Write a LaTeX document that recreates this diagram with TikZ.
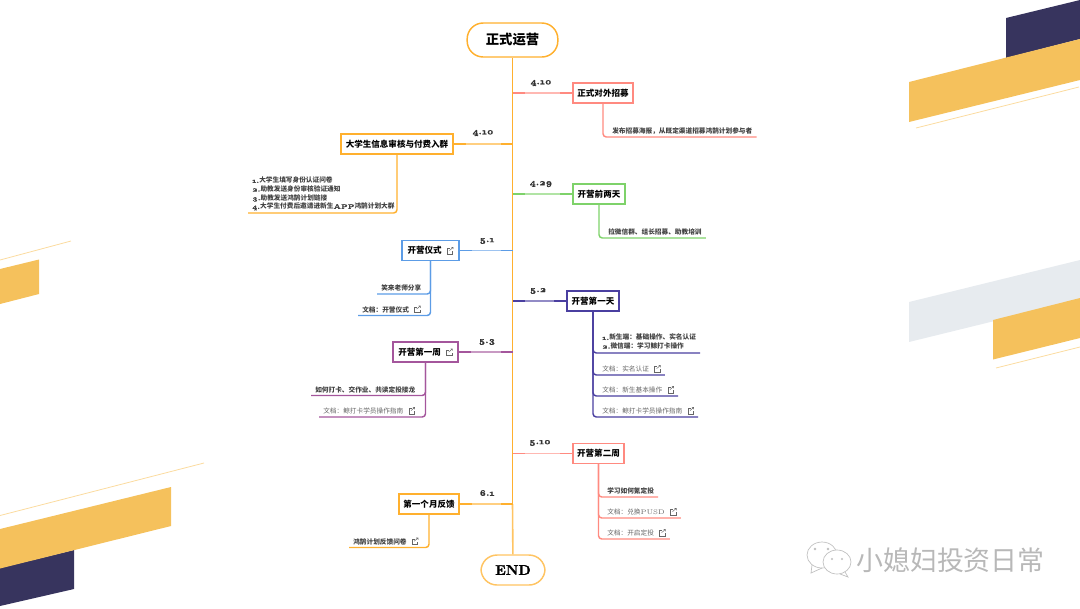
\documentclass[tikz,border=0pt]{standalone}
\usepackage{fontspec}
\setmainfont{Noto Sans CJK SC}
\newfontfamily\latn[Numbers=OldStyle,UprightFont=*10-Regular,BoldFont=*10-Bold,BoldFeatures={FakeBold=1.6}]{LMRoman}
\newfontfamily\markfont{Noto Sans CJK SC}

\definecolor{orangec}{HTML}{FFB02E}
\definecolor{redc}{HTML}{FF8A80}
\definecolor{greenc}{HTML}{7ED26A}
\definecolor{bluec}{HTML}{5C9CE6}
\definecolor{purplec}{HTML}{4A3FA0}
\definecolor{magentac}{HTML}{A4569C}
\definecolor{bandy}{HTML}{F5C15C}
\definecolor{bandn}{HTML}{37345E}
\definecolor{bandg}{HTML}{E7EBEF}
\definecolor{liney}{HTML}{FBDB9F}

\newcommand{\linkicon}{\hspace{4pt}\tikz[x=1pt,y=1pt,baseline=0pt,line width=.35pt]{
  \draw[black!60] (2,4) -- (0,4) -- (0,0) -- (4,0) -- (4,2);
  \draw[black!60] (1.6,2.4) -- (4.4,4.8) (3,4.8) -- (4.4,4.8) -- (4.4,3.4);}}

\tikzset{
  rootbox/.style={draw=orangec, line width=1.1pt, rounded corners=12pt, fill=white, inner sep=0pt, font=\bfseries\fontsize{10}{12}\selectfont},
  topicbox/.style={draw=#1, line width=1.1pt, fill=white, inner sep=0pt, minimum height=15pt, font=\bfseries\fontsize{6.4}{8}\selectfont},
  datelabel/.style={inner sep=0pt, font=\latn\bfseries\fontsize{6.5}{8}\selectfont, text=black!80},
  leafbase/.style={inner xsep=3pt, anchor=south west, text=black!75, font=\bfseries\fontsize{5}{6.5}\selectfont},
  leaf/.style={leafbase, inner ysep=1.2pt, text height=4.6pt, text depth=1pt},
  leafdoc/.style={leaf, text=black!60, font=\fontsize{5}{6.5}\selectfont},
  trunk/.style={orangec, line width=1.2pt},
  twig/.style={#1, line width=1.1pt, rounded corners=2.5pt},
  branchmid/.style={white, opacity=.4, line width=1.1pt, shorten <=9pt, shorten >=9pt},
}

\begin{document}
\begin{tikzpicture}[x=.75pt,y=-.75pt]
\useasboundingbox (0,0) rectangle (1080,608);

% background bands
\fill[bandn] (1006,18) -- (1080,0) -- (1080,39) -- (1006,58) -- cycle;
\fill[bandy] (909,82) -- (1080,39) -- (1080,80) -- (909,122) -- cycle;
\draw[liney, line width=.6pt] (916,128) -- (1079,87);
\fill[bandg] (909,302) -- (1080,260) -- (1080,300) -- (909,342) -- cycle;
\fill[bandy] (993,320) -- (1080,298) -- (1080,338) -- (993,359.5) -- cycle;
\draw[liney, line width=.6pt] (996,368) -- (1080,347);
\fill[bandy] (0,269) -- (39,259.5) -- (39,294) -- (0,304) -- cycle;
\draw[liney, line width=.6pt] (0,260) -- (71,241);
\draw[liney, line width=.6pt] (0,515.5) -- (204,463);
\fill[bandn] (0,568) -- (74,550) -- (74,589) -- (0,606) -- cycle;
\fill[bandy] (0,529) -- (171,487) -- (171,526) -- (0,568.5) -- cycle;

% root and end
\node[rootbox, minimum width=68pt, minimum height=25.5pt] (start) at (512.5,40) {正式运营};
\node[rootbox, draw=orangec!75, minimum width=48pt, minimum height=22.5pt, font=\latn\bfseries\fontsize{10.5}{12}\selectfont] (finish) at (513,570) {END};

% topics
\node[topicbox=redc, minimum width=45pt] (recruit) at (603,93) {正式对外招募};
\node[topicbox=orangec, minimum width=84pt] (audit) at (397,144) {大学生信息审核与付费入群};
\node[topicbox=greenc, minimum width=39pt] (twodays) at (599,194) {开营前两天};
\node[topicbox=bluec, minimum width=43pt] (ceremony) at (430.5,250.5) {开营仪式\linkicon};
\node[topicbox=purplec, minimum width=39pt] (dayone) at (593,301) {开营第一天};
\node[topicbox=magentac, minimum width=49pt] (weekone) at (425.5,352) {开营第一周\linkicon};
\node[topicbox=redc, minimum width=38pt] (weektwo) at (598.5,453.5) {开营第二周};
\node[topicbox=orangec, minimum width=45pt] (feedback) at (429,504) {第一个月反馈};

\draw[trunk] (start) -- (feedback.east -| start);
\draw[trunk, orangec!75] (feedback.east -| start) -- (finish);

\foreach \topic/\side/\col in {recruit/west/redc, audit/east/orangec, twodays/west/greenc, ceremony/east/bluec, dayone/west/purplec, weekone/east/magentac, weektwo/west/redc, feedback/east/orangec} {
  \draw[\col, line width=1.1pt] (\topic.\side) -- (\topic.\side -| start);
  \draw[branchmid] (\topic.\side) -- (\topic.\side -| start);
}

% dates
\node[datelabel] (d1) at (541,83) {4.10};
\node[datelabel] (d2) at (483,133) {4.10};
\node[datelabel] (d3) at (541,184) {4.29};
\node[datelabel] (d4) at (487,241) {5.1};
\node[datelabel] (d5) at (538,291) {5.2};
\node[datelabel] (d6) at (487,342) {5.3};
\node[datelabel] (d7) at (540,443) {5.10};
\node[datelabel] (d8) at (487,493) {6.1};

% leaves
\node[leaf] (r1) at (608,137) {发布招募海报，从既定渠道招募鸿鹄计划参与者};
\draw[twig=redc] (recruit) |- (r1.south east);

\node[leafbase, inner ysep=1.9pt, align=left] (a1) at (248,213) {{\latn\bfseries 1.}大学生填写身份认证问卷\\{\latn\bfseries 2.}助教发送身份审核验证通知\\{\latn\bfseries 3.}助教发送鸿鹄计划链接\\{\latn\bfseries 4.}大学生付费后邀请进新生{\latn\bfseries APP}鸿鹄计划大群};
\draw[twig=orangec] (audit) |- (a1.south west);

\node[leaf] (t1) at (604,238) {拉微信群、组长招募、助教培训};
\draw[twig=greenc] (twodays) |- (t1.south east);

\node[leaf] (c1) at (377,294) {笑来老师分享};
\node[leaf] (c2) at (358,315.5) {文档：开营仪式\linkicon};
\draw[twig=bluec] (ceremony) |- (c1.south west);
\draw[twig=bluec] (ceremony) |- (c2.south west);

\node[leaf] (w1) at (311,395.5) {如何打卡、交作业、共读定投接龙};
\node[leafdoc] (w2) at (319,417) {文档：鲸打卡学员操作指南\linkicon};
\draw[twig=magentac] (weekone) |- (w1.south west);
\draw[twig=magentac] (weekone) |- (w2.south west);

\node[leafbase, inner ysep=2.6pt, align=left] (o1) at (598,353) {{\latn\bfseries 1.}新生端：基础操作、实名认证\\{\latn\bfseries 2.}微信端：学习鲸打卡操作};
\node[leafdoc] (o2) at (598,375) {文档：实名认证\linkicon};
\node[leafdoc] (o3) at (598,396) {文档：新生基本操作\linkicon};
\node[leafdoc] (o4) at (598,417) {文档：鲸打卡学员操作指南\linkicon};
\foreach \leaf in {o1,o2,o3,o4}
  \draw[twig=purplec] (dayone) |- (\leaf.south east);

\node[leaf] (s1) at (603,497) {学习如何氪定投};
\node[leafdoc] (s2) at (603,518) {文档：兑换{\latn PUSD}\linkicon};
\node[leafdoc] (s3) at (603,539) {文档：开启定投\linkicon};
\foreach \leaf in {s1,s2,s3}
  \draw[twig=redc] (weektwo) |- (\leaf.south east);

\node[leaf] (f1) at (349,547.5) {鸿鹄计划反馈问卷\linkicon};
\draw[twig=orangec] (feedback) |- (f1.south west);

% watermark
\draw[black!25, fill=white, line width=.5pt] (822,555) ellipse (15 and 13);
\draw[black!25, line width=.5pt] (812,565) -- (811,573) -- (822,568);
\draw[black!25, fill=white, line width=.5pt] (837,562) ellipse (14 and 12);
\draw[black!25, line width=.5pt] (845,572) -- (848,577) -- (840,574);
\fill[black!25] (815,549) circle (1.3) (828,549) circle (1.3) (832,559) circle (1.2) (842,559) circle (1.2);
\node[inner sep=0pt, text=black!28, font=\markfont\fontsize{20.2}{22}\selectfont] (mark) at (950.5,560) {小媳妇投资日常};
\end{tikzpicture}
\end{document}
